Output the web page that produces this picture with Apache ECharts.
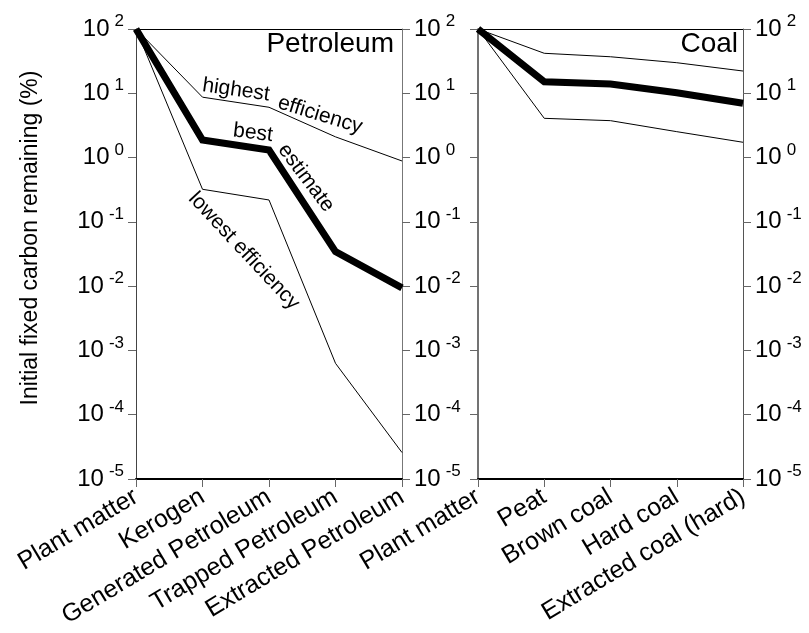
<!DOCTYPE html>
<html>
<head>
<meta charset="utf-8">
<script src="https://cdn.jsdelivr.net/npm/echarts@6/dist/echarts.min.js"></script>
<style>
html,body{margin:0;padding:0;background:#fff;}
#chart{width:809px;height:633px;}
</style>
</head>
<body>
<div id="chart"></div>
<script>
// ---- data ----
const petroleumStages = ['Plant matter', 'Kerogen', 'Generated Petroleum', 'Trapped Petroleum', 'Extracted Petroleum'];
const coalStages = ['Plant matter', 'Peat', 'Brown coal', 'Hard coal', 'Extracted coal (hard)'];

const petroleumHigh = [100, 8.7, 6.06, 2.1, 0.885];
const petroleumBest = [100, 1.88, 1.31, 0.0344, 0.0094];
const petroleumLow  = [100, 0.321, 0.219, 0.00063, 0.0000258];

const coalHigh = [100, 41.9, 37, 29.9, 22.2];
const coalBest = [100, 15.1, 13.9, 10.2, 7.0];
const coalLow  = [100, 4.08, 3.75, 2.53, 1.73];

const yMin = 1e-5, yMax = 100;
const yTitle = 'Initial fixed carbon remaining (%)';

// ---- chart ----
const FONT = '"Liberation Sans", Arial, Helvetica, sans-serif';
const chart = echarts.init(document.getElementById('chart'), null, {renderer: 'canvas'});

function powLabel(v) {
  const e = Math.round(Math.log10(v));
  return '{b|10}{s|' + e + '}';
}
const richPow = {
  b: {fontSize: 24, fontFamily: FONT, color: '#000', lineHeight: 32},
  s: {fontSize: 17, fontFamily: FONT, color: '#000', verticalAlign: 'top', padding: [0, 0, 0, 5], lineHeight: 16}
};

function yAxisDef(gridIndex, position, showLabel, lineColor, lineWidth) {
  return {
    type: 'log', logBase: 10, gridIndex: gridIndex, position: position,
    min: yMin, max: yMax,
    axisLine: {show: true, lineStyle: {color: lineColor, width: lineWidth}},
    axisTick: {show: true, inside: false, length: 8, lineStyle: {color: '#666', width: 1}},
    minorTick: {show: false},
    splitLine: {show: false},
    axisLabel: {show: showLabel, formatter: powLabel, rich: richPow, margin: 12}
  };
}
function xBottom(gridIndex, data) {
  return {
    type: 'category', gridIndex: gridIndex, position: 'bottom', data: data, boundaryGap: false,
    axisLine: {show: true, lineStyle: {color: '#000', width: 2}},
    axisTick: {show: true, length: 8, interval: 0, lineStyle: {color: '#666', width: 1}},
    axisLabel: {interval: 0, rotate: 31, fontSize: 25, fontFamily: FONT, color: '#000', margin: 16},
    splitLine: {show: false}
  };
}
function xTop(gridIndex, data) {
  return {
    type: 'category', gridIndex: gridIndex, position: 'top', data: data, boundaryGap: false,
    axisLine: {show: true, lineStyle: {color: '#000', width: 1}},
    axisTick: {show: false}, axisLabel: {show: false}, splitLine: {show: false}
  };
}
function line(name, data, xi, yi, width) {
  return {
    name: name, type: 'line', data: data, xAxisIndex: xi, yAxisIndex: yi,
    symbol: 'none', smooth: false, silent: true, animation: false,
    lineStyle: {color: '#000', width: width, join: 'miter'},
    z: width > 2 ? 3 : 2
  };
}

const option = {
  backgroundColor: '#fff',
  animation: false,
  grid: [
    {left: 136, right: 407, top: 29, bottom: 154},
    {left: 478, right: 66, top: 29, bottom: 154}
  ],
  xAxis: [xBottom(0, petroleumStages), xTop(0, petroleumStages), xBottom(1, coalStages), xTop(1, coalStages)],
  yAxis: [
    yAxisDef(0, 'left', true, '#444', 1),
    yAxisDef(0, 'right', true, '#777', 1),
    yAxisDef(1, 'left', false, '#444', 1.5),
    yAxisDef(1, 'right', true, '#555', 1)
  ],
  series: [
    line('Petroleum highest efficiency', petroleumHigh, 0, 0, 1),
    line('Petroleum lowest efficiency', petroleumLow, 0, 0, 1),
    line('Petroleum best estimate', petroleumBest, 0, 0, 7),
    line('Coal highest efficiency', coalHigh, 2, 2, 1),
    line('Coal lowest efficiency', coalLow, 2, 2, 1),
    line('Coal best estimate', coalBest, 2, 2, 7)
  ],
  graphic: [
    {type: 'text', x: 31, y: 238, rotation: Math.PI / 2,
     style: {text: yTitle, font: '23px ' + FONT, fill: '#000', align: 'center', verticalAlign: 'middle'}},
    {type: 'text', x: 394, y: 30,
     style: {text: 'Petroleum', font: '28px ' + FONT, fill: '#000', align: 'right', verticalAlign: 'top'}},
    {type: 'text', x: 738, y: 30,
     style: {text: 'Coal', font: '28px ' + FONT, fill: '#000', align: 'right', verticalAlign: 'top'}},
    {type: 'text', x: 236, y: 90, rotation: -8 * Math.PI / 180,
     style: {text: 'highest', font: '21px ' + FONT, fill: '#000', align: 'center', verticalAlign: 'middle'}},
    {type: 'text', x: 320, y: 115, rotation: -17 * Math.PI / 180,
     style: {text: 'efficiency', font: '21px ' + FONT, fill: '#000', align: 'center', verticalAlign: 'middle'}},
    {type: 'text', x: 253, y: 133, rotation: -7 * Math.PI / 180,
     style: {text: 'best', font: '21px ' + FONT, fill: '#000', align: 'center', verticalAlign: 'middle'}},
    {type: 'text', x: 306, y: 178, rotation: -53 * Math.PI / 180,
     style: {text: 'estimate', font: '21px ' + FONT, fill: '#000', align: 'center', verticalAlign: 'middle'}},
    {type: 'text', x: 244, y: 251, rotation: -47 * Math.PI / 180,
     style: {text: 'lowest efficiency', font: '21px ' + FONT, fill: '#000', align: 'center', verticalAlign: 'middle'}}
  ]
};
chart.setOption(option);
</script>
</body>
</html>
